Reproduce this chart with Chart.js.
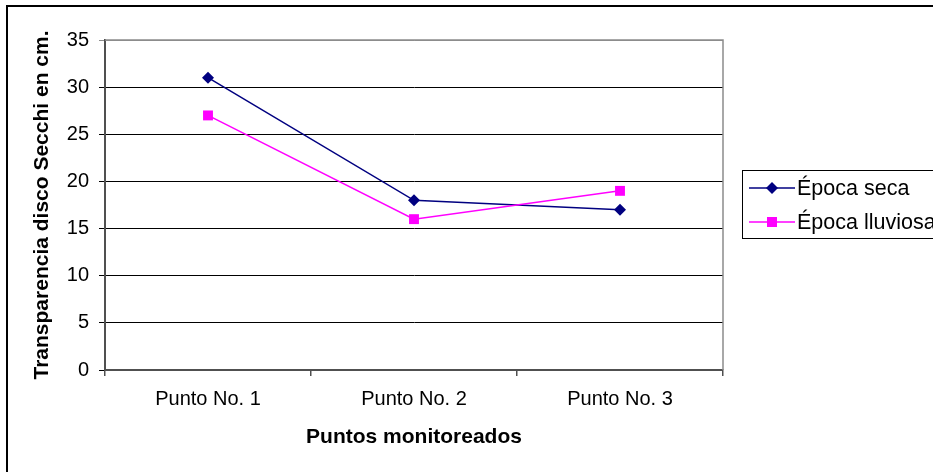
<!DOCTYPE html>
<html>
<head>
<meta charset="utf-8">
<script src="https://cdn.jsdelivr.net/npm/chart.js@4/dist/chart.umd.min.js"></script>
<style>
  html, body { margin: 0; padding: 0; background: #fff; }
  #wrap { width: 933px; height: 472px; position: relative; }
</style>
</head>
<body>
<div id="wrap"><canvas id="c" width="933" height="472"></canvas></div>
<script>
// Secchi disc transparency (cm) at each monitored point
const categories = ['Punto No. 1', 'Punto No. 2', 'Punto No. 3'];
const epocaSeca = [31, 18, 17];
const epocaLluviosa = [27, 16, 19];
const seriesNames = ['Época seca', 'Época lluviosa'];
const yAxisTitle = 'Transparencia disco Secchi en cm.';
const xAxisTitle = 'Puntos monitoreados';

const FONT = '"Liberation Sans", Arial, sans-serif';
const NAVY = '#000080';
const MAGENTA = '#FF00FF';

// Outer frame, plot-area frame and the boxed legend
const decorations = {
  id: 'decorations',
  beforeDatasetsDraw(chart) {
    const { ctx, chartArea: a } = chart;
    ctx.save();
    ctx.strokeStyle = '#8c8c8c';
    ctx.lineWidth = 1.5;
    ctx.beginPath();
    ctx.moveTo(a.left, a.top);
    ctx.lineTo(a.right, a.top);
    ctx.lineTo(a.right, a.bottom);
    ctx.stroke();
    ctx.restore();
  },
  afterDraw(chart) {
    const { ctx } = chart;
    ctx.save();
    // chart frame (left and top edges)
    ctx.strokeStyle = '#000';
    ctx.lineWidth = 2;
    ctx.beginPath();
    ctx.moveTo(7, 472);
    ctx.lineTo(7, 6);
    ctx.lineTo(933, 6);
    ctx.stroke();

    // legend box
    ctx.lineWidth = 1;
    ctx.strokeStyle = '#000';
    ctx.strokeRect(742.5, 170.5, 200, 68);

    const rows = [
      { y: 188, color: NAVY, shape: 'diamond', label: seriesNames[0] },
      { y: 222, color: MAGENTA, shape: 'square', label: seriesNames[1] }
    ];
    ctx.font = '21.5px ' + FONT;
    ctx.textBaseline = 'middle';
    ctx.textAlign = 'left';
    rows.forEach(r => {
      ctx.strokeStyle = r.color;
      ctx.lineWidth = 1.5;
      ctx.beginPath();
      ctx.moveTo(749, r.y);
      ctx.lineTo(795, r.y);
      ctx.stroke();
      ctx.fillStyle = r.color;
      ctx.beginPath();
      if (r.shape === 'diamond') {
        ctx.moveTo(772, r.y - 6);
        ctx.lineTo(778, r.y);
        ctx.lineTo(772, r.y + 6);
        ctx.lineTo(766, r.y);
        ctx.closePath();
      } else {
        ctx.rect(767, r.y - 5, 10, 10);
      }
      ctx.fill();
      ctx.fillStyle = '#000';
      ctx.fillText(r.label, 797, r.y + 1);
    });
    ctx.restore();
  }
};

new Chart(document.getElementById('c'), {
  type: 'line',
  data: {
    labels: categories,
    datasets: [
      {
        label: seriesNames[0],
        data: epocaSeca,
        borderColor: NAVY,
        backgroundColor: NAVY,
        borderWidth: 1.5,
        pointStyle: 'rectRot',
        pointRadius: 6,
        pointBorderWidth: 0,
        pointBackgroundColor: NAVY,
        tension: 0,
        order: 1
      },
      {
        label: seriesNames[1],
        data: epocaLluviosa,
        borderColor: MAGENTA,
        backgroundColor: MAGENTA,
        borderWidth: 1.5,
        pointStyle: 'rect',
        pointRadius: 7,
        pointBorderWidth: 0,
        pointBackgroundColor: MAGENTA,
        tension: 0,
        order: 0
      }
    ]
  },
  options: {
    responsive: false,
    animation: false,
    devicePixelRatio: 1,
    layout: { padding: { left: 0, top: 40, right: 210, bottom: 0 } },
    plugins: {
      legend: { display: false },
      tooltip: { enabled: false }
    },
    scales: {
      x: {
        type: 'category',
        offset: true,
        grid: {
          offset: true,
          drawOnChartArea: false,
          drawTicks: true,
          tickLength: 6,
          color: '#505050',
          lineWidth: 1.5
        },
        border: { display: true, color: '#505050', width: 2 },
        ticks: {
          color: '#000',
          padding: 11,
          font: { family: FONT, size: 20 },
          maxRotation: 0
        },
        title: {
          display: true,
          text: xAxisTitle,
          color: '#000',
          font: { family: FONT, size: 21, weight: 'bold' },
          padding: { top: 0, bottom: 22 }
        },
        afterFit(scale) { scale.height = 102; }
      },
      y: {
        min: 0,
        max: 35,
        ticks: {
          stepSize: 5,
          color: '#000',
          padding: 10,
          font: { family: FONT, size: 20 }
        },
        grid: {
          drawTicks: true,
          tickLength: 6,
          lineWidth: 1,
          color: ctx => (ctx.tick && ctx.tick.value === 35) ? '#8c8c8c' : '#000'
        },
        border: { display: true, color: '#505050', width: 2 },
        title: {
          display: true,
          text: yAxisTitle,
          color: '#000',
          font: { family: FONT, size: 21, weight: 'bold' },
          padding: { top: 30, bottom: 0 }
        },
        afterFit(scale) { scale.width = 105; }
      }
    }
  },
  plugins: [decorations]
});
</script>
</body>
</html>
